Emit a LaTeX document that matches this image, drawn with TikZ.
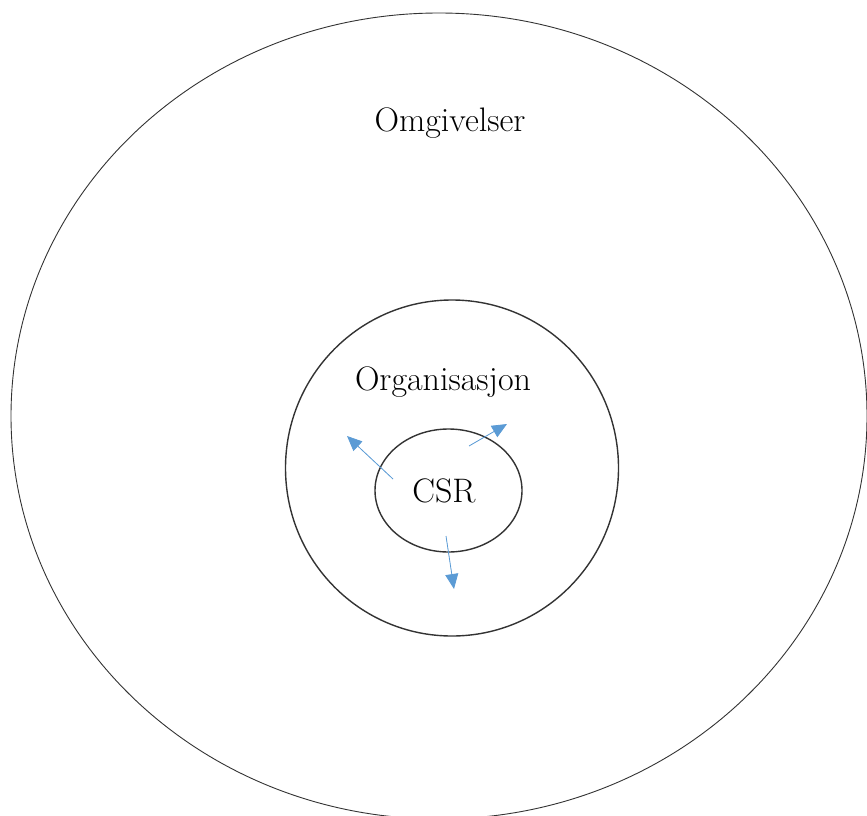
\documentclass[tikz,border=0pt]{standalone}
\usepackage{fontspec}
\usetikzlibrary{shapes.geometric,arrows.meta}
\definecolor{ringgray}{HTML}{333333}
\definecolor{arrowblue}{HTML}{5B9BD5}
\tikzset{
  ring/.style={ellipse,draw=ringgray,inner sep=0pt,outer sep=0pt},
  label/.style={anchor=base,font=\fontsize{34}{40}\selectfont},
  effect/.style={-{Triangle[length=15pt,width=13pt]},draw=arrowblue,fill=arrowblue,line width=0.8pt}
}
\begin{document}
\begin{tikzpicture}[x=1pt,y=-1pt]
\useasboundingbox (0,0) rectangle (867,816);
% ringene
\node[ring,line width=0.9pt,minimum width=856pt,minimum height=806pt] (O) at (439,416) {};
\node[ring,line width=1.4pt,minimum width=333pt,minimum height=336pt] (M) at (452,468) {};
\node[ring,line width=1.4pt,minimum width=147pt,minimum height=123pt] (I) at (448.5,490.5) {};
% tekst
\node[label] (Otxt) at (450,131) {Omgivelser};
\node[label] (Mtxt) at (443,390) {Organisasjon};
\node[label] (Itxt) at (444,502) {CSR};
% piler
\coordinate (a1) at (393,479); \coordinate (b1) at (347,436);
\coordinate (a2) at (469,446); \coordinate (b2) at (507,424);
\coordinate (a3) at (446,536); \coordinate (b3) at (454,589);
\draw[effect] (a1) -- (b1);
\draw[effect] (a2) -- (b2);
\draw[effect] (a3) -- (b3);
\end{tikzpicture}
\end{document}
